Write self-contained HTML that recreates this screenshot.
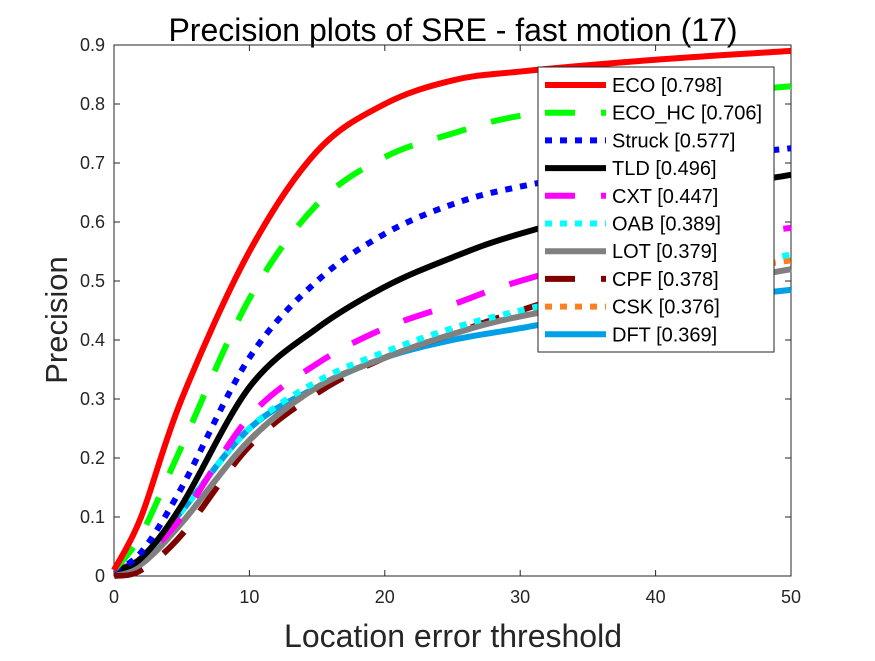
<!DOCTYPE html>
<html><head><meta charset="utf-8"><style>
body{margin:0;background:#fff;width:875px;height:656px;overflow:hidden}
svg{font-family:"Liberation Sans",sans-serif}
</style></head><body>
<svg id="chart" width="875" height="656">
<rect x="0" y="0" width="875" height="656" fill="#fff"/>
<text x="453" y="41" text-anchor="middle" font-size="32" fill="#000">Precision plots of SRE - fast motion (17)</text>
<text x="453" y="647" text-anchor="middle" font-size="32" fill="#262626">Location error threshold</text>
<text transform="translate(67,320) rotate(-90)" text-anchor="middle" font-size="31" fill="#262626">Precision</text>
<g id="axes"></g>
<g id="series"></g>
<g id="legend"></g>
</svg>
<script>
const xs = [0,2,5,10,15,20,25,30,40,50];
const names = ["ECO [0.798]","ECO_HC [0.706]","Struck [0.577]","TLD [0.496]","CXT [0.447]","OAB [0.389]","LOT [0.379]","CPF [0.378]","CSK [0.376]","DFT [0.369]"];
const eco   = [0.01,0.10,0.30,0.55,0.72,0.80,0.84,0.855,0.875,0.89];
const ecohc = [0.01,0.07,0.22,0.47,0.63,0.71,0.75,0.78,0.81,0.83];
const struck= [0.01,0.04,0.15,0.37,0.50,0.58,0.63,0.66,0.70,0.725];
const tld   = [0.01,0.03,0.12,0.32,0.42,0.49,0.54,0.58,0.64,0.68];
const cxt   = [0.01,0.03,0.10,0.27,0.36,0.42,0.46,0.50,0.56,0.59];
const oab   = [0.01,0.03,0.11,0.25,0.33,0.38,0.42,0.45,0.50,0.545];
const lot   = [0.01,0.02,0.09,0.23,0.32,0.37,0.41,0.44,0.48,0.52];
const cpf   = [0.0,0.01,0.07,0.22,0.31,0.37,0.41,0.45,0.52,0.575];
const csk   = [0.01,0.02,0.09,0.23,0.32,0.375,0.415,0.445,0.50,0.535];
const dft   = [0.01,0.03,0.11,0.25,0.32,0.37,0.40,0.42,0.46,0.485];
const xTicks = [0,10,20,30,40,50];
const yTicks = [0,0.1,0.2,0.3,0.4,0.5,0.6,0.7,0.8,0.9];

const X0=114,X1=791,Y0=576,Y1=45;
const X=v=>X0+(v/50)*(X1-X0);
const Y=p=>Y0-(p/0.9)*(Y0-Y1);
const NS="http://www.w3.org/2000/svg";
function mk(t,a,parent){const e=document.createElementNS(NS,t);for(const k in a)e.setAttribute(k,a[k]);parent.appendChild(e);return e;}

const axes=document.getElementById('axes');
const frame=mk('rect',{x:X0,y:Y1,width:X1-X0,height:Y0-Y1,fill:'none',stroke:'#262626','stroke-width':1},axes);


xTicks.forEach(t=>{
  mk('line',{x1:X(t),x2:X(t),y1:Y0,y2:Y0-6,stroke:'#262626'},axes);
  mk('line',{x1:X(t),x2:X(t),y1:Y1,y2:Y1+6,stroke:'#262626'},axes);
  const l=mk('text',{x:X(t),y:Y0+27,'text-anchor':'middle','font-size':18,fill:'#262626'},axes);
  l.textContent=t;
  
  
});
yTicks.forEach(t=>{
  mk('line',{x1:X0,x2:X0+6,y1:Y(t),y2:Y(t),stroke:'#262626'},axes);
  mk('line',{x1:X1,x2:X1-6,y1:Y(t),y2:Y(t),stroke:'#262626'},axes);
  const l=mk('text',{x:X0-9,y:Y(t)+6,'text-anchor':'end','font-size':18,fill:'#262626'},axes);
  l.textContent=t===0?'0':t.toFixed(1);
  
  
});

const styles=[
 {d:eco,c:'#ff0000',dash:''},
 {d:ecohc,c:'#00ff00',dash:'30 26'},
 {d:struck,c:'#0000ff',dash:'7 8'},
 {d:tld,c:'#000000',dash:''},
 {d:cxt,c:'#ff00ff',dash:'30 26'},
 {d:oab,c:'#00ffff',dash:'7 8'},
 {d:lot,c:'#808080',dash:''},
 {d:cpf,c:'#800000',dash:'30 26'},
 {d:csk,c:'#ff8020',dash:'7 8'},
 {d:dft,c:'#00a0e6',dash:''}
];
function smooth(d){
  const p=xs.map((x,i)=>[X(x),Y(d[i])]);
  let s='M'+p[0][0]+','+p[0][1];
  for(let i=0;i<p.length-1;i++){
    const a=p[i-1]||p[i],b=p[i],c=p[i+1],e=p[i+2]||c;
    s+=' C'+(b[0]+(c[0]-a[0])/6)+','+(b[1]+(c[1]-a[1])/6)+' '+(c[0]-(e[0]-b[0])/6)+','+(c[1]-(e[1]-b[1])/6)+' '+c[0]+','+c[1];
  }
  return s;
}
const series=document.getElementById('series');
for(let i=styles.length-1;i>=0;i--){
  const s=styles[i];
  const p=mk('path',{d:smooth(s.d),fill:'none',stroke:s.c,'stroke-width':6,'stroke-dasharray':s.dash},series);
  
  
}
const legend=document.getElementById('legend');
const box=mk('rect',{x:538,y:67,width:236,height:285,fill:'#fff',stroke:'#262626','stroke-width':1},legend);


styles.forEach((s,i)=>{
  const y=85+i*27.7;
  const ln=mk('line',{x1:545,x2:606,y1:y,y2:y,stroke:s.c,'stroke-width':6,'stroke-dasharray':s.dash},legend);
  
  
  const t=mk('text',{x:612,y:y+7,'font-size':20,fill:'#000'},legend);
  t.textContent=names[i];
  
  
});
</script>
</body></html>
